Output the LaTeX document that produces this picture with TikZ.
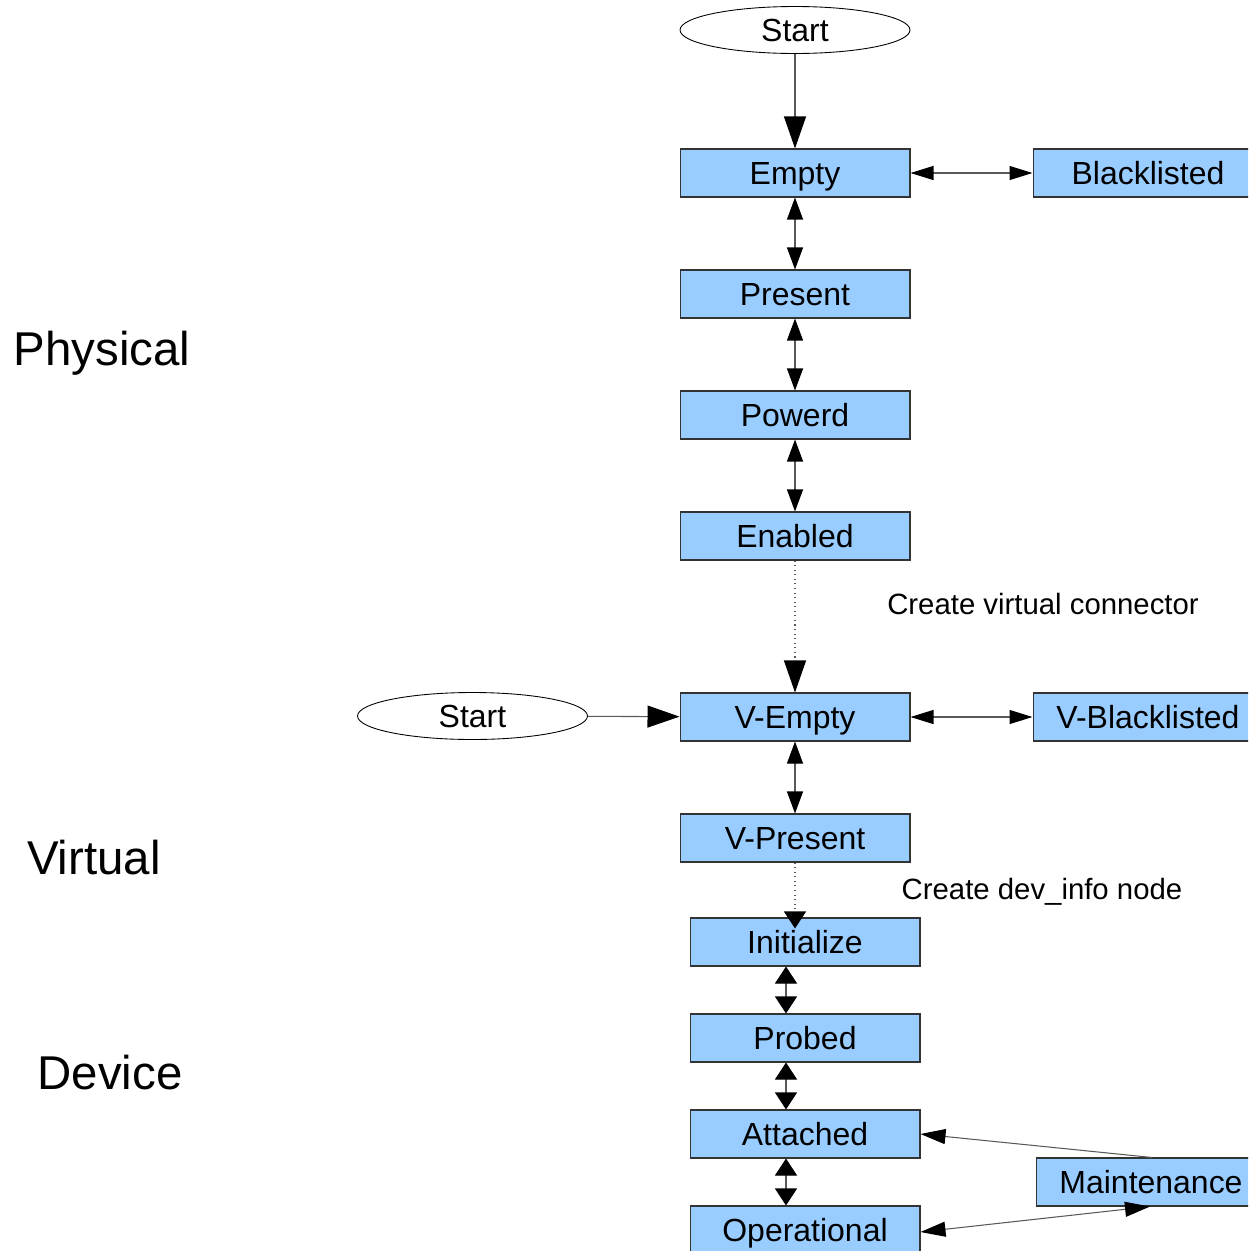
\documentclass[tikz,border=0pt]{standalone}
\usepackage{fontspec}
\setmainfont{Liberation Sans}
\usetikzlibrary{arrows.meta,shapes.geometric}
\definecolor{boxblue}{HTML}{99CCFF}
\definecolor{edge}{HTML}{333333}
\begin{document}
\begin{tikzpicture}[x=0.02cm,y=-0.02cm,
  state/.style={draw=edge,line width=0.6pt,fill=boxblue,rectangle,minimum width=4.6cm,minimum height=0.96cm,inner sep=0pt,text height=13pt,text depth=0pt,font=\fontsize{18.2}{21}\selectfont},
  startnode/.style={draw=black,line width=0.5pt,fill=white,ellipse,minimum width=4.6cm,minimum height=0.94cm,inner sep=0pt,text height=13pt,text depth=0pt,font=\fontsize{18.2}{21}\selectfont},
  side/.style={font=\fontsize{27}{30}\selectfont},
  note/.style={font=\fontsize{16.7}{19}\selectfont},
  conn/.style={draw=black!65,line width=0.6pt},
  big/.style={-{Triangle[length=0.64cm,width=0.44cm,color=black]}},
  dbl/.style={{Triangle[length=0.44cm,width=0.32cm,color=black]}-{Triangle[length=0.44cm,width=0.32cm,color=black]}},
  dbld/.style={{Triangle[length=0.34cm,width=0.44cm,color=black]}-{Triangle[length=0.34cm,width=0.44cm,color=black]}},
  hdbl/.style={{Triangle[length=0.46cm,width=0.28cm,color=black]}-{Triangle[length=0.46cm,width=0.28cm,color=black]}},
  mid/.style={-{Triangle[length=0.5cm,width=0.3cm,color=black]}},
  dotc/.style={draw=black!65,line width=0.6pt,dotted}
]
\useasboundingbox (0,0) rectangle (1248,1251);
\clip (0,0) rectangle (1248,1251);
\node[startnode] (s1) at (795,30) {Start};
\node[state] (empty) at (795,173) {Empty};
\node[state] (bl) at (1148,173) {Blacklisted};
\node[state] (present) at (795,294) {Present};
\node[state] (powerd) at (795,415) {Powerd};
\node[state] (enabled) at (795,536) {Enabled};
\node[state] (vempty) at (795,717) {V-Empty};
\node[state] (vbl) at (1148,717) {V-Blacklisted};
\node[startnode] (s2) at (472.5,716) {Start};
\node[state] (vpresent) at (795,838) {V-Present};
\node[state] (init) at (805,942) {Initialize};
\node[state] (probed) at (805,1038) {Probed};
\node[state] (attached) at (805,1134) {Attached};
\node[state] (oper) at (805,1230) {Operational};
\node[state] (maint) at (1151,1182) {Maintenance};

\node[side] (phys) at (102,353) {Physical};
\node[side] (virt) at (94,858) {Virtual};
\node[side] (dev) at (110,1073) {Device};
\node[note] (n1) at (1043,604) {Create virtual connector};
\node[note] (n2) at (1042,892) {Create dev\_info node};

\draw[conn,big] (s1) -- (empty);
\draw[conn,hdbl] (empty) -- (bl);
\draw[conn,dbl] (empty) -- (present);
\draw[conn,dbl] (present) -- (powerd);
\draw[conn,dbl] (powerd) -- (enabled);
\draw[dotc,big] (enabled) -- (vempty);
\draw[conn,big] (s2) -- (vempty);
\draw[conn,hdbl] (vempty) -- (vbl);
\draw[conn,dbl] (vempty) -- (vpresent);
\draw[dotc,shorten >=-0.22cm,-{Triangle[length=0.34cm,width=0.44cm,color=black]}] (vpresent.south) -- (vpresent.south |- init.north);
\draw[conn,dbld] ([xshift=-0.38cm]init.south) -- ([xshift=-0.38cm]probed.north);
\draw[conn,dbld] ([xshift=-0.38cm]probed.south) -- ([xshift=-0.38cm]attached.north);
\draw[conn,dbld] ([xshift=-0.38cm]attached.south) -- ([xshift=-0.38cm]oper.north);
\draw[conn,mid] ([xshift=0.02cm]maint.north) -- (attached.east);
\draw[conn,{Triangle[length=0.5cm,width=0.3cm,color=black]}-{Triangle[length=0.5cm,width=0.3cm,color=black]}] ([yshift=-0.04cm]oper.east) -- ([xshift=-0.02cm]maint.south);
\end{tikzpicture}
\end{document}
